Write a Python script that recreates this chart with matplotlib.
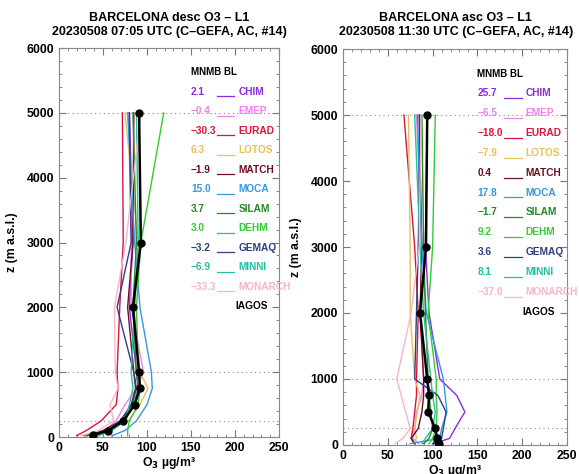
import numpy as np
import matplotlib
matplotlib.use("Agg")
import matplotlib.pyplot as plt

plt.rcParams["font.family"] = ["Liberation Sans", "DejaVu Sans"]
plt.rcParams["font.weight"] = "bold"

MODELS = ["CHIM", "EMEP", "EURAD", "LOTOS", "MATCH", "MOCA",
          "SILAM", "DEHM", "GEMAQ", "MINNI", "MONARCH"]
COLORS = ["#8a2be2", "#ee82ee", "#dc143c", "#e8c060", "#6b1020", "#3399dd",
          "#228b22", "#32cd32", "#2f3f7f", "#20c0a0", "#f4b6c8"]

# model levels (m a.s.l.)
Z_MOD = [20, 100, 250, 500, 750, 1000, 2000, 3000, 5000]

# descending profile, 07:05 UTC
DESC_MNMB = ["2.1", "\u22120.4", "\u221230.3", "6.3", "\u22121.9", "15.0",
             "3.7", "3.0", "\u22123.2", "\u22126.9", "\u221233.3"]
DESC_MOD = {
    "CHIM":    [42, 58, 74, 86, 90, 88, 80, 84, 80],
    "EMEP":    [35, 52, 65, 75, 88, 96, 82, 82, 79],
    "EURAD":   [20, 31, 48, 65, 67, 66, 69, 73, 72],
    "LOTOS":   [30, 55, 79, 92, 101, 92, 85, 90, 75],
    "MATCH":   [32, 50, 70, 82, 87, 85, 78, 84, 85],
    "MOCA":    [60, 75, 88, 100, 106, 105, 92, 86, 78],
    "SILAM":   [28, 58, 75, 85, 90, 88, 84, 88, 84],
    "DEHM":    [78, 78, 80, 90, 92, 90, 88, 93, 119],
    "GEMAQ":   [35, 55, 70, 83, 88, 85, 66, 82, 80],
    "MINNI":   [45, 60, 75, 80, 84, 82, 86, 90, 88],
    "MONARCH": [25, 45, 62, 58, 67, 64, 63, 76, 93],
}
DESC_IAGOS_Z = [35, 100, 250, 500, 750, 1000, 2000, 3000, 5000]
DESC_IAGOS = [39, 56, 73, 86, 92, 91, 84, 93, 91]

# ascending profile, 11:30 UTC
ASC_MNMB = ["25.7", "\u22126.5", "\u221218.0", "\u22127.9", "0.4", "17.8",
            "\u22121.7", "9.2", "3.6", "8.1", "\u221237.0"]
ASC_MOD = {
    "CHIM":    [101, 119, 125, 136, 127, 108, 96, 92, 94],
    "EMEP":    [85, 78, 80, 82, 88, 90, 86, 88, 82],
    "EURAD":   [80, 76, 78, 80, 82, 82, 84, 80, 68],
    "LOTOS":   [78, 82, 80, 83, 86, 80, 75, 75, 73],
    "MATCH":   [80, 76, 84, 88, 90, 90, 86, 88, 85],
    "MOCA":    [75, 108, 110, 116, 114, 112, 93, 88, 83],
    "SILAM":   [90, 96, 100, 98, 96, 95, 92, 90, 88],
    "DEHM":    [96, 100, 104, 105, 104, 104, 95, 100, 103],
    "GEMAQ":   [100, 110, 112, 115, 106, 80, 82, 84, 86],
    "MINNI":   [88, 92, 100, 103, 100, 98, 90, 86, 80],
    "MONARCH": [58, 67, 75, 70, 65, 60, 76, 85, 87],
}
ASC_IAGOS_Z = [20, 50, 100, 250, 500, 750, 1000, 2000, 3000, 5000]
ASC_IAGOS = [107.5, 106, 105, 103, 95, 96, 94, 86, 92.6, 94]

TITLES = ["BARCELONA desc O3 \u2013 L1\n20230508 07:05 UTC (C\u2013GEFA, AC, #14)",
          "BARCELONA asc O3 \u2013 L1\n20230508 11:30 UTC (C\u2013GEFA, AC, #14)"]


def draw_panel(ax, models, mnmb, iz, iv):
    for z in (250, 1000, 5000):
        ax.axhline(z, color="#888888", lw=0.8, ls=(0, (1, 3)), zorder=1)
    for name, col in zip(MODELS, COLORS):
        ax.plot(models[name], Z_MOD, color=col, lw=1.0, zorder=2)
    ax.plot(iv, iz, color="black", lw=1.8, zorder=3)
    ax.plot(iv, iz, "o", color="black", ms=5, zorder=4)

    ax.set_xlim(0, 250)
    ax.set_ylim(0, 6000)
    ax.set_xticks(np.arange(0, 251, 50))
    ax.set_xticks(np.arange(0, 251, 10), minor=True)
    ax.set_yticks(np.arange(0, 6001, 1000))
    ax.set_yticks(np.arange(0, 6001, 200), minor=True)
    ax.tick_params(which="both", direction="in", top=True, right=True,
                   color="#777777", labelsize=8.8)
    ax.tick_params(which="major", length=5)
    ax.tick_params(which="minor", length=2.5)
    for s in ax.spines.values():
        s.set_color("#888888")
        s.set_linewidth(0.8)
    ax.set_xlabel("O$_\\mathbf{3}$ \u00b5g/m\u00b3", fontsize=8.8,
                  fontweight="bold", labelpad=1)
    ax.set_ylabel("z (m a.s.l.)", fontsize=8.8, fontweight="bold", labelpad=6)

    # MNMB legend
    y0, dy = 0.938, 0.0501
    ax.text(0.60, y0, "MNMB BL", transform=ax.transAxes, fontsize=7,
            va="center", ha="left", color="black")
    for i, (name, col) in enumerate(zip(MODELS, COLORS)):
        y = y0 - dy * (i + 1)
        ax.text(0.60, y, mnmb[i], transform=ax.transAxes, fontsize=7.3,
                va="center", ha="left", color=col)
        ax.plot([0.718, 0.797], [y - 0.012, y - 0.012], color=col, lw=0.9,
                transform=ax.transAxes, clip_on=False)
        ax.text(0.815, y, name, transform=ax.transAxes, fontsize=7.3,
                va="center", ha="left", color=col, clip_on=False)
    ax.text(0.80, y0 - dy * 12, "IAGOS", transform=ax.transAxes, fontsize=7.3,
            va="center", ha="left", color="black")


fig = plt.figure(figsize=(5.79, 4.74), dpi=100)
ax1 = fig.add_axes([0.1019, 0.078, 0.380, 0.8207])
ax2 = fig.add_axes([0.5924, 0.0612, 0.3869, 0.8354])

draw_panel(ax1, DESC_MOD, DESC_MNMB, DESC_IAGOS_Z, DESC_IAGOS)
draw_panel(ax2, ASC_MOD, ASC_MNMB, ASC_IAGOS_Z, ASC_IAGOS)

fig.text(0.293, 0.975, TITLES[0], ha="center", va="top", fontsize=9,
         fontweight="bold", linespacing=1.25)
fig.text(0.787, 0.975, TITLES[1], ha="center", va="top", fontsize=9,
         fontweight="bold", linespacing=1.25)

fig.savefig("out.png", dpi=100)
